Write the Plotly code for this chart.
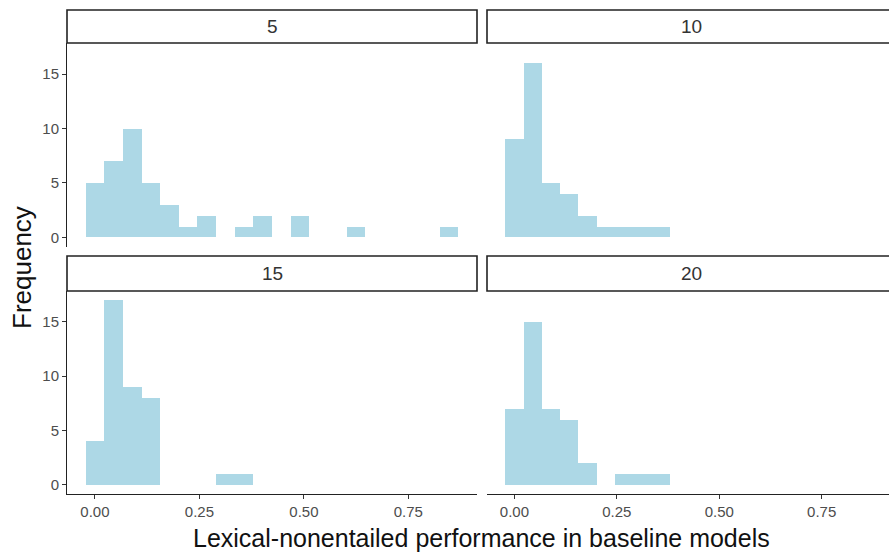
import plotly.graph_objects as go

# ---------------- data ----------------
FACETS = ["5", "10", "15", "20"]
BIN_WIDTH = 0.0446  # histogram bin width (bins centred on multiples of it)
COUNTS_5 = [5, 7, 10, 5, 3, 1, 2, 0, 1, 2, 0, 2, 0, 0, 1, 0, 0, 0, 0, 1]
COUNTS_10 = [9, 16, 5, 4, 2, 1, 1, 1, 1]
COUNTS_15 = [4, 17, 9, 8, 0, 0, 0, 1, 1]
COUNTS_20 = [7, 15, 7, 6, 2, 0, 1, 1, 1]
X_TICKS = [0.0, 0.25, 0.5, 0.75]
X_TICK_LABELS = ["0.00", "0.25", "0.50", "0.75"]
Y_TICKS = [0, 5, 10, 15]
Y_TICK_LABELS = ["0", "5", "10", "15"]
X_TITLE = "Lexical-nonentailed performance in baseline models"
Y_TITLE = "Frequency"

ALL_COUNTS = [COUNTS_5, COUNTS_10, COUNTS_15, COUNTS_20]

W, H = 889, 553
FILL = "#ADD8E6"
FONT = "Liberation Sans, Arial, sans-serif"

# panel geometry in pixels
LEFT_X = (67, 477)
RIGHT_X = (487, 889)
TOP_Y = (43, 246.7)
BOT_Y = (291, 494)
TOP_STRIP = (10, 43)
BOT_STRIP = (256, 291)


def px_x(v):
    return v / W


def px_y(v):
    return 1 - v / H


fig = go.Figure()

panels = [
    (LEFT_X, TOP_Y, TOP_STRIP, False, True),
    (RIGHT_X, TOP_Y, TOP_STRIP, False, False),
    (LEFT_X, BOT_Y, BOT_STRIP, True, True),
    (RIGHT_X, BOT_Y, BOT_STRIP, True, False),
]

max_count = max(max(c) for c in ALL_COUNTS)
xmin = -BIN_WIDTH / 2
xmax = (len(COUNTS_5) - 0.5) * BIN_WIDTH
xpad = (xmax - xmin) * 0.05
yr = [-max_count * 0.05, max_count * 1.05]

layout_axes = {}
shapes = []
annotations = []

for i, (counts, label, (xr, yrng, strip, show_x, show_y)) in enumerate(
        zip(ALL_COUNTS, FACETS, panels)):
    n = i + 1
    xa = "x" if n == 1 else f"x{n}"
    ya = "y" if n == 1 else f"y{n}"
    centers = [k * BIN_WIDTH for k in range(len(counts))]
    fig.add_trace(go.Bar(
        x=centers, y=counts, width=BIN_WIDTH,
        marker=dict(color=FILL, line=dict(width=0)),
        xaxis=xa, yaxis=ya, showlegend=False, hoverinfo="x+y",
    ))
    xkey = "xaxis" if n == 1 else f"xaxis{n}"
    ykey = "yaxis" if n == 1 else f"yaxis{n}"
    layout_axes[xkey] = dict(
        domain=[px_x(xr[0]), px_x(xr[1])],
        anchor=ya,
        range=[xmin - xpad, xmax + xpad],
        tickvals=X_TICKS, ticktext=X_TICK_LABELS,
        showticklabels=show_x,
        ticks="outside" if show_x else "",
        ticklen=4, tickwidth=1, tickcolor="#333333",
        showline=show_x, linecolor="#222222", linewidth=1,
        showgrid=False, zeroline=False,
        tickfont=dict(family=FONT, size=15, color="#4D4D4D"),
        fixedrange=True,
    )
    layout_axes[ykey] = dict(
        domain=[px_y(yrng[1]), px_y(yrng[0])],
        anchor=xa,
        range=yr,
        tickvals=Y_TICKS, ticktext=Y_TICK_LABELS,
        showticklabels=show_y,
        ticks="outside" if show_y else "",
        ticklen=4, tickwidth=1, tickcolor="#333333",
        showline=show_y, linecolor="#222222", linewidth=1,
        showgrid=False, zeroline=False,
        tickfont=dict(family=FONT, size=15, color="#4D4D4D"),
        fixedrange=True,
    )
    # strip
    x1 = xr[1] if xr[1] < W else W + 10
    shapes.append(dict(
        type="rect", xref="paper", yref="paper",
        x0=px_x(xr[0]), x1=px_x(x1),
        y0=px_y(strip[1]), y1=px_y(strip[0]),
        line=dict(color="#222222", width=1.6), fillcolor="white", layer="below",
    ))
    annotations.append(dict(
        text=label, xref="paper", yref="paper",
        x=px_x((xr[0] + xr[1]) / 2) if xr[1] < W else px_x((xr[0] + 895) / 2),
        y=px_y((strip[0] + strip[1]) / 2),
        showarrow=False, xanchor="center", yanchor="middle",
        font=dict(family=FONT, size=19, color="#333333"),
    ))

annotations.append(dict(
    text=X_TITLE, xref="paper", yref="paper",
    x=px_x(481), y=px_y(538), showarrow=False,
    xanchor="center", yanchor="middle",
    font=dict(family=FONT, size=25, color="#111111"),
))
annotations.append(dict(
    text=Y_TITLE, xref="paper", yref="paper",
    x=px_x(22), y=px_y(268), showarrow=False, textangle=-90,
    xanchor="center", yanchor="middle",
    font=dict(family=FONT, size=26, color="#111111"),
))

fig.update_layout(
    width=W, height=H,
    margin=dict(l=0, r=0, t=0, b=0),
    paper_bgcolor="white", plot_bgcolor="white",
    bargap=0, showlegend=False,
    shapes=shapes, annotations=annotations,
    **layout_axes,
)

fig.write_html("out.html", config={"displayModeBar": False})
